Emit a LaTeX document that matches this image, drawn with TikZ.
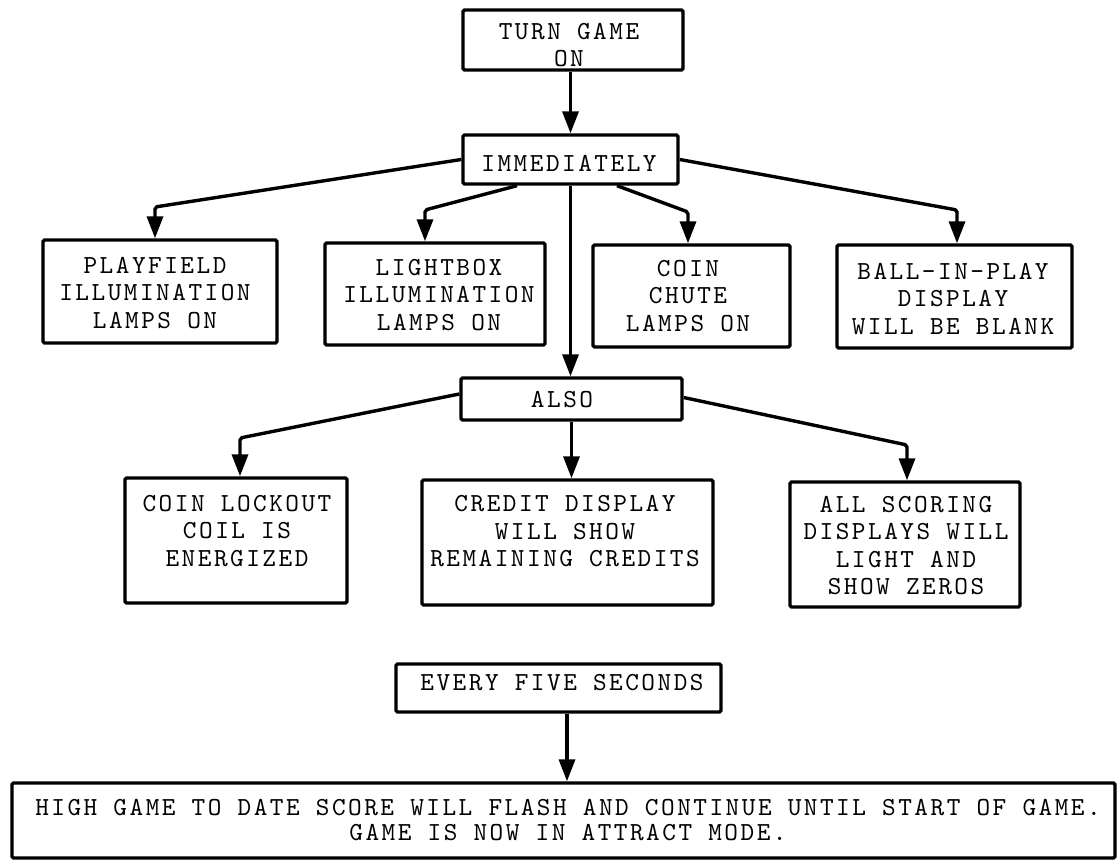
\documentclass[tikz,border=0pt]{standalone}
\usepackage{fontspec}
\newfontfamily\tw{lmmono10-regular.otf}[LetterSpace=9.6]
\usetikzlibrary{arrows.meta}
\begin{document}
\begin{tikzpicture}[x=1pt,y=-1pt,
  box/.style={draw, line width=3.4pt, rounded corners=1.5pt, inner sep=0pt},
  txt/.style={align=center, inner sep=0pt, font=\tw\fontsize{26}{27.5}\selectfont},
  conn/.style={line width=3.4pt, rounded corners=2pt, -{Triangle[length=22pt,width=16pt]}}]
\useasboundingbox (0,0) rectangle (1118,863);
% boxes
\node[box, minimum width=220pt, minimum height=60pt]  (turn)   at (573,40) {};
\node[box, minimum width=215pt, minimum height=49pt]  (imm)    at (570.5,159.5) {};
\node[box, minimum width=234pt, minimum height=103pt] (play)   at (160,291.5) {};
\node[box, minimum width=220pt, minimum height=102pt] (light)  at (435,294) {};
\node[box, minimum width=197pt, minimum height=102pt] (chute)  at (691.5,296) {};
\node[box, minimum width=235pt, minimum height=103pt] (ball)   at (954.5,296.5) {};
\node[box, minimum width=221pt, minimum height=42pt]  (also)   at (571.5,399) {};
\node[box, minimum width=222pt, minimum height=125pt] (lock)   at (236,540.5) {};
\node[box, minimum width=291pt, minimum height=125pt] (credit) at (567.5,542.5) {};
\node[box, minimum width=230pt, minimum height=125pt] (score)  at (905,544.5) {};
\node[box, minimum width=325pt, minimum height=48pt]  (every)  at (558.5,688) {};
\node[box, minimum width=1103pt, minimum height=75pt] (high)   at (563.5,820.5) {};
% texts
\node[txt] (turn-t)   at (569,45)    {TURN GAME\\ON};
\node[txt] (imm-t)    at (569,163.5) {IMMEDIATELY};
\node[txt] (play-t)   at (155,293)   {PLAYFIELD\\ILLUMINATION\\LAMPS ON};
\node[txt] (light-t)  at (439,295)   {LIGHTBOX\\ILLUMINATION\\LAMPS ON};
\node[txt] (chute-t)  at (688,296)   {COIN\\CHUTE\\LAMPS ON};
\node[txt] (ball-t)   at (953,298.5) {BALL-IN-PLAY\\DISPLAY\\WILL BE BLANK};
\node[txt] (also-t)   at (562,400)   {ALSO};
\node[txt] (lock-t)   at (237,531)   {COIN LOCKOUT\\COIL IS\\ENERGIZED};
\node[txt] (credit-t) at (565,531.5) {CREDIT DISPLAY\\WILL SHOW\\REMAINING CREDITS};
\node[txt] (score-t)  at (906,545.5) {ALL SCORING\\DISPLAYS WILL\\LIGHT AND\\SHOW ZEROS};
\node[txt] (every-t)  at (562,682.5) {EVERY FIVE SECONDS};
\node[txt, font=\tw\fontsize{26}{25}\selectfont] (high-t) at (568,820.5)
  {HIGH GAME TO DATE SCORE WILL FLASH AND CONTINUE UNTIL START OF GAME.\\GAME IS NOW IN ATTRACT MODE.};
% bend points
\coordinate (c1) at (155,207);
\coordinate (c2) at (425,210);
\coordinate (c3) at (688,212);
\coordinate (c4) at (957,210);
\coordinate (c5) at (240,438);
\coordinate (c6) at (907,445);
% connectors
\draw[conn] (turn.south -| imm.north) -- (imm.north);
\draw[conn] (imm.west) -- (c1) -- (play.north -| c1);
\draw[conn] ([xshift=-53.5pt]imm.south) -- (c2) -- (light.north -| c2);
\draw[conn] (imm.south) -- (imm.south |- also.north);
\draw[conn] ([xshift=46.5pt]imm.south) -- (c3) -- (chute.north -| c3);
\draw[conn] (imm.east) -- (c4) -- (ball.north -| c4);
\draw[conn] ([yshift=5pt]also.west) -- (c5) -- (lock.north -| c5);
\draw[conn] (also.south) -- (also.south |- credit.north);
\draw[conn] ([yshift=1.5pt]also.east) -- (c6) -- (score.north -| c6);
\draw[conn] ([xshift=8.5pt]every.south) -- ([xshift=8.5pt]every.south |- high.north);
\end{tikzpicture}
\end{document}
